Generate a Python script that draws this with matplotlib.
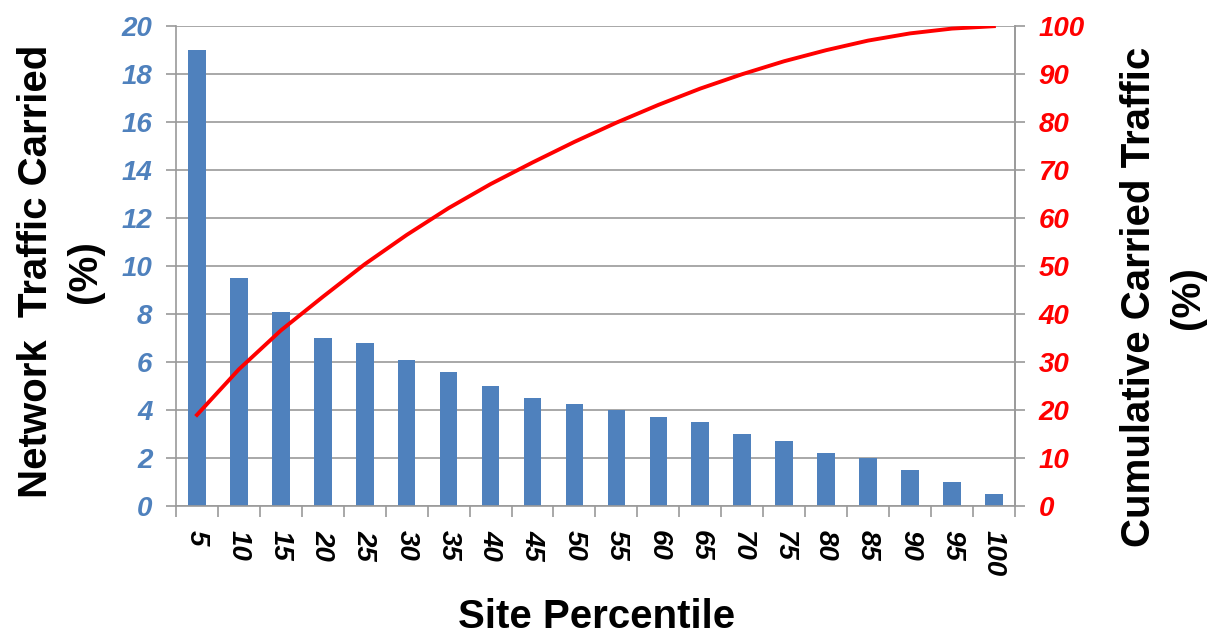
import numpy as np
import matplotlib.pyplot as plt
from matplotlib.ticker import FixedLocator

plt.rcParams['font.family'] = ['Liberation Sans', 'DejaVu Sans']

percentile = [5, 10, 15, 20, 25, 30, 35, 40, 45, 50,
              55, 60, 65, 70, 75, 80, 85, 90, 95, 100]
traffic = [19.0, 9.5, 8.1, 7.0, 6.8, 6.1, 5.6, 5.0, 4.5, 4.25,
           4.0, 3.7, 3.5, 3.0, 2.7, 2.2, 2.0, 1.5, 1.0, 0.5]
cumulative = [19.0, 28.5, 36.6, 43.6, 50.4, 56.5, 62.1, 67.1, 71.6, 75.9,
              79.9, 83.6, 87.0, 90.0, 92.7, 95.0, 97.0, 98.5, 99.5, 100.0]

blue = '#4F81BD'
grid = '#9a9a9a'

fig = plt.figure(figsize=(12.07, 6.39), dpi=100)
ax = fig.add_axes([0.1458, 0.208, 0.695, 0.751])
x = np.arange(len(percentile))

ax.bar(x, traffic, width=0.42, color=blue, zorder=2)
ax.set_xlim(-0.5, len(percentile) - 0.5)
ax.set_ylim(0, 20)
ax.set_yticks(range(0, 21, 2))
ax.grid(axis='y', color=grid, linewidth=1.2, zorder=0)

ax.set_xticks(x)
ax.set_xticklabels(percentile, rotation=270, fontsize=20, fontweight='bold',
                   fontstyle='italic')
ax.xaxis.set_minor_locator(FixedLocator(np.arange(-0.5, len(percentile), 1)))
ax.tick_params(axis='x', which='major', length=0, pad=17)
ax.tick_params(axis='x', which='minor', length=8, width=1.2, color=grid)
ax.tick_params(axis='y', length=7, width=1.2, color=grid, labelsize=20,
               labelcolor=blue, pad=10)
for lbl in ax.get_yticklabels():
    lbl.set_fontstyle('italic')
    lbl.set_fontweight('bold')

ax.spines['top'].set_visible(False)
for s in ['left', 'right', 'bottom']:
    ax.spines[s].set_color(grid)
    ax.spines[s].set_linewidth(1.2)

# cumulative share on the right-hand axis
ax2 = ax.twinx()
ax2.plot(x, cumulative, color='#ff0000', linewidth=2.8, zorder=3)
ax2.set_ylim(0, 100)
ax2.set_yticks(range(0, 101, 10))
ax2.tick_params(axis='y', length=7, width=1.2, color=grid, labelsize=20,
                labelcolor='#ff0000', pad=10)
for lbl in ax2.get_yticklabels():
    lbl.set_fontstyle('italic')
    lbl.set_fontweight('bold')
for s in ['top', 'left', 'bottom']:
    ax2.spines[s].set_visible(False)
ax2.spines['right'].set_color(grid)
ax2.spines['right'].set_linewidth(1.2)

fig.text(0.050, 0.575, 'Network  Traffic Carried\n(%)', rotation=90,
         ha='center', va='center', fontsize=29, fontweight='bold',
         multialignment='center', linespacing=1.35)
fig.text(0.964, 0.535, 'Cumulative Carried Traffic\n(%)', rotation=90,
         ha='center', va='center', fontsize=29, fontweight='bold',
         multialignment='center', linespacing=1.35)
fig.text(0.494, 0.034, 'Site Percentile', ha='center', va='center',
         fontsize=29, fontweight='bold')

fig.savefig('out.png', dpi=100)
